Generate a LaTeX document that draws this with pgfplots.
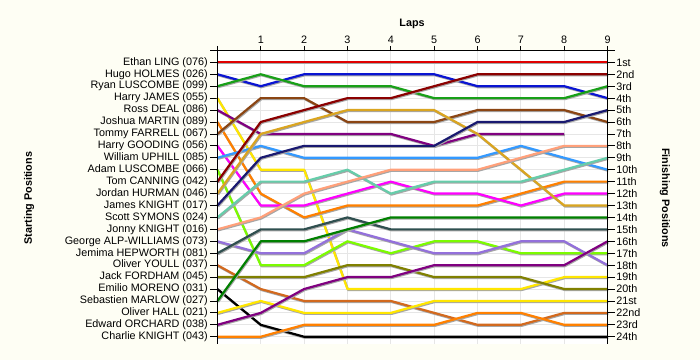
\documentclass[border=0pt]{standalone}
\usepackage{pgfplots}
\pgfplotsset{compat=1.18}
\usepackage{fontspec}
\setmainfont{Liberation Sans}
\definecolor{bgcream}{HTML}{FEFEF4}
\definecolor{gridgray}{HTML}{E6E6E6}
\definecolor{cEthan}{HTML}{E00000}
\definecolor{cHugo}{HTML}{0A14D2}
\definecolor{cRyan}{HTML}{18A018}
\definecolor{cHJames}{HTML}{FFE600}
\definecolor{cRoss}{HTML}{800080}
\definecolor{cJoshua}{HTML}{FF8000}
\definecolor{cTommy}{HTML}{8B4513}
\definecolor{cHGooding}{HTML}{FF00FF}
\definecolor{cWilliam}{HTML}{3399FF}
\definecolor{cAdam}{HTML}{7CFC00}
\definecolor{cTom}{HTML}{8B0000}
\definecolor{cJordan}{HTML}{DAA520}
\definecolor{cJames}{HTML}{191970}
\definecolor{cScott}{HTML}{66CDAA}
\definecolor{cJonny}{HTML}{FFA07A}
\definecolor{cGeorge}{HTML}{9370DB}
\definecolor{cJemima}{HTML}{2F4F4F}
\definecolor{cOYoull}{HTML}{D2691E}
\definecolor{cJack}{HTML}{808000}
\definecolor{cEmilio}{HTML}{000000}
\definecolor{cSeb}{HTML}{008000}
\definecolor{cOHall}{HTML}{FFE600}
\definecolor{cEdward}{HTML}{800080}
\definecolor{cCharlie}{HTML}{FF8000}
\newcommand{\lblfont}{\fontsize{10.8}{12}\selectfont}
\tikzset{lapline/.style={no markers, line width=2.2pt, line join=round,
  preaction={draw=black!35, line width=2.2pt, transform canvas={xshift=0.7pt,yshift=-1pt}}}}
\begin{document}
\begin{tikzpicture}[x=1pt,y=1pt]
\fill[bgcream] (0,0) rectangle (700,360);
\begin{axis}[
  at={(217.4pt,16.1pt)}, anchor=south west, scale only axis,
  width=390.2pt, height=293.5pt,
  xmin=0, xmax=9, ymin=0, ymax=24.6, y dir=reverse, clip=false,
  axis line style={draw=none},
  axis background/.style={fill=white},
  xtick={0,...,9}, xticklabels={}, xtick style={draw=none},
  ytick={1,...,24},
  yticklabels={Ethan LING (076),Hugo HOLMES (026),Ryan LUSCOMBE (099),Harry JAMES (055),Ross DEAL (086),Joshua MARTIN (089),Tommy FARRELL (067),Harry GOODING (056),William UPHILL (085),Adam LUSCOMBE (066),Tom CANNING (042),Jordan HURMAN (046),James KNIGHT (017),Scott SYMONS (024),Jonny KNIGHT (016),George ALP-WILLIAMS (073),Jemima HEPWORTH (081),Oliver YOULL (037),Jack FORDHAM (045),Emilio MORENO (031),Sebastien MARLOW (027),Oliver HALL (021),Edward ORCHARD (038),Charlie KNIGHT (043)},
  ytick pos=left, yticklabel pos=left, tick align=outside, major tick length=7pt,
  ytick style={black, line width=0.8pt},
  yticklabel style={font=\lblfont, inner sep=2.5pt},
  grid=major, major grid style={gridgray, line width=0.8pt},
]
\addplot[lapline, color=cEthan] coordinates {(0,1)(1,1)(2,1)(3,1)(4,1)(5,1)(6,1)(7,1)(8,1)(9,1)};
\addplot[lapline, color=cHugo] coordinates {(0,2)(1,3)(2,2)(3,2)(4,2)(5,2)(6,3)(7,3)(8,3)(9,4)};
\addplot[lapline, color=cRyan] coordinates {(0,3)(1,2)(2,3)(3,3)(4,3)(5,4)(6,4)(7,4)(8,4)(9,3)};
\addplot[lapline, color=cHJames] coordinates {(0,4)(1,10)(2,10)(3,20)(4,20)(5,20)(6,20)(7,20)(8,19)(9,19)};
\addplot[lapline, color=cRoss] coordinates {(0,5)(1,7)(2,7)(3,7)(4,7)(5,8)(6,7)(7,7)(8,7)};
\addplot[lapline, color=cJoshua] coordinates {(0,6)(1,12)(2,14)(3,13)(4,13)(5,13)(6,13)(7,12)(8,11)(9,11)};
\addplot[lapline, color=cTommy] coordinates {(0,7)(1,4)(2,4)(3,6)(4,6)(5,6)(6,5)(7,5)(8,5)(9,6)};
\addplot[lapline, color=cHGooding] coordinates {(0,8)(1,13)(2,13)(3,12)(4,11)(5,12)(6,12)(7,13)(8,12)(9,12)};
\addplot[lapline, color=cWilliam] coordinates {(0,9)(1,8)(2,9)(3,9)(4,9)(5,9)(6,9)(7,8)(8,9)(9,10)};
\addplot[lapline, color=cAdam] coordinates {(0,10)(1,18)(2,18)(3,16)(4,17)(5,16)(6,16)(7,17)(8,17)(9,17)};
\addplot[lapline, color=cTom] coordinates {(0,11)(1,6)(2,5)(3,4)(4,4)(5,3)(6,2)(7,2)(8,2)(9,2)};
\addplot[lapline, color=cJordan] coordinates {(0,12)(1,7)(2,6)(3,5)(4,5)(5,5)(6,7)(7,10)(8,13)(9,13)};
\addplot[lapline, color=cJames] coordinates {(0,13)(1,9)(2,8)(3,8)(4,8)(5,8)(6,6)(7,6)(8,6)(9,5)};
\addplot[lapline, color=cScott] coordinates {(0,14)(1,11)(2,11)(3,10)(4,12)(5,11)(6,11)(7,11)(8,10)(9,9)};
\addplot[lapline, color=cJonny] coordinates {(0,15)(1,14)(2,12)(3,11)(4,10)(5,10)(6,10)(7,9)(8,8)(9,8)};
\addplot[lapline, color=cGeorge] coordinates {(0,16)(1,17)(2,17)(3,15)(4,16)(5,17)(6,17)(7,16)(8,16)(9,18)};
\addplot[lapline, color=cJemima] coordinates {(0,17)(1,15)(2,15)(3,14)(4,15)(5,15)(6,15)(7,15)(8,15)(9,15)};
\addplot[lapline, color=cOYoull] coordinates {(0,18)(1,20)(2,21)(3,21)(4,21)(5,22)(6,23)(7,23)(8,22)(9,22)};
\addplot[lapline, color=cJack] coordinates {(0,19)(1,19)(2,19)(3,18)(4,18)(5,19)(6,19)(7,19)(8,20)(9,20)};
\addplot[lapline, color=cEmilio] coordinates {(0,20)(1,23)(2,24)(3,24)(4,24)(5,24)(6,24)(7,24)(8,24)(9,24)};
\addplot[lapline, color=cSeb] coordinates {(0,21)(1,16)(2,16)(3,15)(4,14)(5,14)(6,14)(7,14)(8,14)(9,14)};
\addplot[lapline, color=cOHall] coordinates {(0,22)(1,21)(2,22)(3,22)(4,22)(5,21)(6,21)(7,21)(8,21)(9,21)};
\addplot[lapline, color=cEdward] coordinates {(0,23)(1,22)(2,20)(3,19)(4,19)(5,18)(6,18)(7,18)(8,18)(9,16)};
\addplot[lapline, color=cCharlie] coordinates {(0,24)(1,24)(2,23)(3,23)(4,23)(5,23)(6,22)(7,22)(8,23)(9,23)};
\draw[black, line width=1pt] (axis cs:-0.17,0) -- (axis cs:9.17,0);
\draw[black, line width=0.8pt] (axis cs:0,-0.3) -- (axis cs:0,24.6);
\draw[black, line width=0.8pt] (axis cs:9,-0.3) -- (axis cs:9,24.6);
\end{axis}
\begin{axis}[
  at={(217.4pt,16.1pt)}, anchor=south west, scale only axis,
  width=390.2pt, height=293.5pt,
  xmin=0, xmax=9, ymin=0, ymax=24.6, y dir=reverse,
  axis line style={draw=none}, xtick=\empty,
  ytick={1,...,24},
  yticklabels={1st,2nd,3rd,4th,5th,6th,7th,8th,9th,10th,11th,12th,13th,14th,15th,16th,17th,18th,19th,20th,21st,22nd,23rd,24th},
  ytick pos=right, yticklabel pos=right, tick align=outside, major tick length=7pt,
  ytick style={black, line width=0.8pt},
  yticklabel style={font=\lblfont, inner sep=1.5pt},
]
\end{axis}
\begin{axis}[
  at={(217.4pt,16.1pt)}, anchor=south west, scale only axis,
  width=390.2pt, height=293.5pt,
  xmin=0, xmax=9, ymin=0, ymax=24.6, y dir=reverse,
  axis line style={draw=none}, ytick=\empty,
  xtick={0,...,9}, xticklabels={,1,2,3,4,5,6,7,8,9},
  xtick pos=right, xticklabel pos=right, tick align=outside, major tick length=4.5pt,
  xtick style={black, line width=0.8pt},
  xticklabel style={font=\lblfont, inner sep=2pt},
]
\end{axis}
\node[font=\bfseries\lblfont] at (412,336) {Laps};
\node[font=\bfseries\lblfont, rotate=90] at (29,162) {Starting Positions};
\node[font=\bfseries\lblfont, rotate=-90] at (665,162) {Finishing Positions};
\end{tikzpicture}
\end{document}
